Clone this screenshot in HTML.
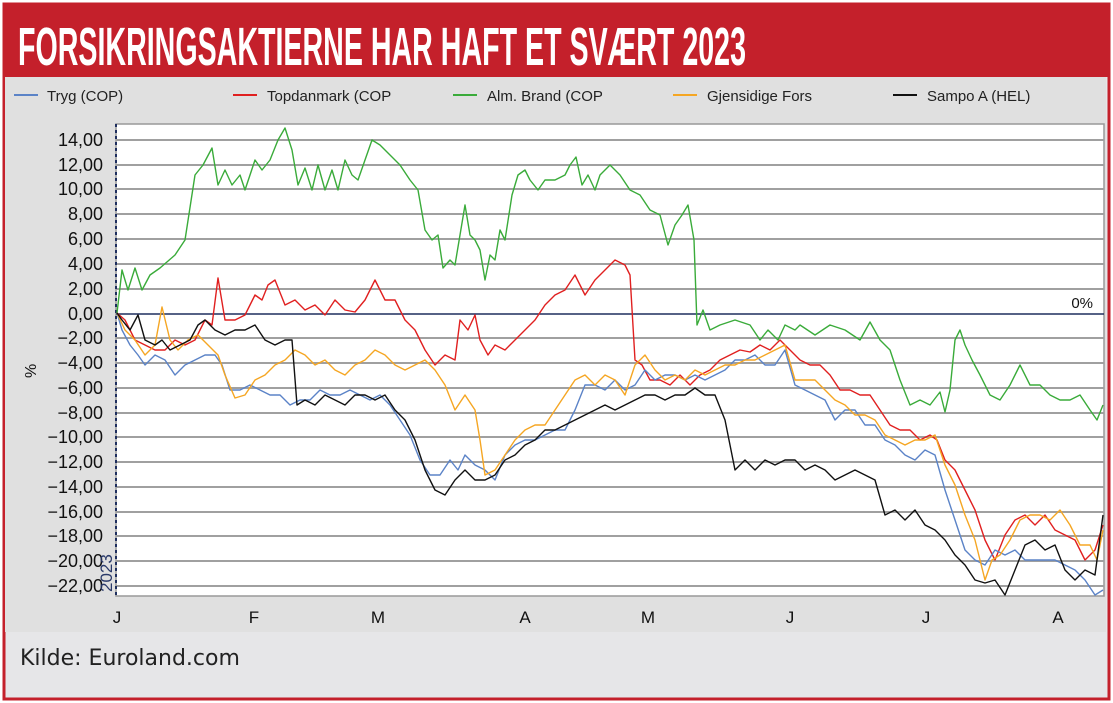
<!DOCTYPE html>
<html><head><meta charset="utf-8"><style>
html,body{margin:0;padding:0;background:#fff;}
body{width:1113px;height:703px;position:relative;overflow:hidden;font-family:"Liberation Sans",Arial,sans-serif;}
</style></head><body>
<svg width="1113" height="703" xmlns="http://www.w3.org/2000/svg" style="position:absolute;left:0;top:0">
<rect x="0" y="0" width="1113" height="703" fill="#fff"/>
<rect x="4" y="4" width="1105" height="695" fill="#e6e6e8" stroke="#c4202b" stroke-width="3"/>
<rect x="3" y="3" width="1107" height="74" fill="#c4202b"/>
<text x="18" y="65" font-family="'Liberation Sans Narrow','Liberation Sans',sans-serif" font-weight="bold" font-size="54" fill="#fff" textLength="728" lengthAdjust="spacingAndGlyphs">FORSIKRINGSAKTIERNE HAR HAFT ET SVÆRT 2023</text>
<rect x="5" y="77" width="1101" height="555" fill="#e0e0e0"/>
<!-- legend -->
<g font-size="15" fill="#222">
<line x1="14" y1="95" x2="38" y2="95" stroke="#5b83c7" stroke-width="2"/><text x="47" y="101">Tryg (COP)</text>
<line x1="233" y1="95" x2="257" y2="95" stroke="#e02020" stroke-width="2"/><text x="267" y="101">Topdanmark (COP</text>
<line x1="453" y1="95" x2="477" y2="95" stroke="#3aab3a" stroke-width="2"/><text x="487" y="101">Alm. Brand (COP</text>
<line x1="673" y1="95" x2="697" y2="95" stroke="#f5a623" stroke-width="2"/><text x="707" y="101">Gjensidige Fors</text>
<line x1="893" y1="95" x2="917" y2="95" stroke="#111" stroke-width="2"/><text x="927" y="101">Sampo A (HEL)</text>
</g>
<rect x="116" y="124" width="988" height="472" fill="#fff" stroke="#999" stroke-width="1.5"/>
<g stroke="#a0a0a0" stroke-width="2">
<line x1="116" y1="140" x2="1104" y2="140"/><line x1="116" y1="165" x2="1104" y2="165"/><line x1="116" y1="189" x2="1104" y2="189"/><line x1="116" y1="214" x2="1104" y2="214"/><line x1="116" y1="239" x2="1104" y2="239"/><line x1="116" y1="264" x2="1104" y2="264"/><line x1="116" y1="289" x2="1104" y2="289"/><line x1="116" y1="338" x2="1104" y2="338"/><line x1="116" y1="363" x2="1104" y2="363"/><line x1="116" y1="388" x2="1104" y2="388"/><line x1="116" y1="413" x2="1104" y2="413"/><line x1="116" y1="437" x2="1104" y2="437"/><line x1="116" y1="462" x2="1104" y2="462"/><line x1="116" y1="487" x2="1104" y2="487"/><line x1="116" y1="512" x2="1104" y2="512"/><line x1="116" y1="536" x2="1104" y2="536"/><line x1="116" y1="561" x2="1104" y2="561"/><line x1="116" y1="586" x2="1104" y2="586"/>
</g>
<line x1="116" y1="314" x2="1104" y2="314" stroke="#1f2f5f" stroke-width="1.5"/>
<text x="1093" y="308" font-size="15" fill="#111" text-anchor="end">0%</text>
<line x1="116" y1="124" x2="116" y2="596" stroke="#1f2f5f" stroke-width="2" stroke-dasharray="3,3"/>
<g font-size="18" fill="#111" text-anchor="end">
<text x="103" y="146">14,00</text><text x="103" y="171">12,00</text><text x="103" y="195">10,00</text><text x="103" y="220">8,00</text><text x="103" y="245">6,00</text><text x="103" y="270">4,00</text><text x="103" y="295">2,00</text><text x="103" y="320">0,00</text><text x="103" y="344">−2,00</text><text x="103" y="369">−4,00</text><text x="103" y="394">−6,00</text><text x="103" y="419">−8,00</text><text x="103" y="443">−10,00</text><text x="103" y="468">−12,00</text><text x="103" y="493">−14,00</text><text x="103" y="518">−16,00</text><text x="103" y="542">−18,00</text><text x="103" y="567">−20,00</text><text x="103" y="592">−22,00</text>
</g>
<text x="0" y="0" font-size="16" fill="#111" transform="translate(36,378) rotate(-90)">%</text>
<text x="0" y="0" font-size="17" fill="#2a3a6a" transform="translate(112,592) rotate(-90)">2023</text>
<g font-size="17" fill="#111" text-anchor="middle">
<text x="117" y="623">J</text><text x="254" y="623">F</text><text x="378" y="623">M</text><text x="525" y="623">A</text><text x="648" y="623">M</text><text x="790" y="623">J</text><text x="926" y="623">J</text><text x="1058" y="623">A</text>
</g>
<g fill="none" stroke-width="1.4" stroke-linejoin="round">
<polyline stroke="#3aab3a" points="117,313 122,270 128,290 135,268 142,290 150,275 160,268 175,255 185,240 195,175 203,165 212,148 218,185 225,170 232,185 240,175 245,190 255,160 262,170 270,160 278,140 285,128 292,150 298,185 305,168 312,190 318,165 325,190 332,170 338,190 345,160 352,175 358,180 365,160 372,140 380,145 390,155 400,165 410,180 418,190 425,230 432,240 438,235 443,268 450,260 455,265 460,235 465,205 470,235 475,240 480,250 485,280 490,255 495,260 500,230 505,240 512,195 518,175 525,170 530,180 538,190 545,180 555,180 565,175 570,165 576,157 582,185 588,175 595,190 600,175 610,165 620,175 630,190 640,195 650,210 660,215 668,245 675,225 682,215 688,205 694,240 697,325 703,310 710,330 720,325 735,320 750,325 760,340 768,330 778,340 785,325 795,330 800,325 815,335 830,325 845,330 860,340 870,322 880,340 890,350 900,380 910,405 920,400 930,405 940,392 945,412 950,390 955,340 960,330 965,345 972,360 980,375 990,395 1000,400 1010,385 1020,365 1030,385 1040,385 1050,395 1060,400 1070,400 1080,395 1090,410 1097,420 1103,405"/>
<polyline stroke="#e02020" points="117,313 125,320 135,340 145,345 155,350 165,350 175,340 185,345 195,340 205,320 212,325 218,278 225,320 235,320 245,315 255,295 262,300 268,285 275,280 285,305 295,300 305,310 315,305 325,315 335,300 345,310 355,312 365,300 375,280 385,300 395,300 405,320 415,330 425,350 435,365 445,355 455,360 460,320 468,330 475,315 480,340 488,355 495,345 505,350 515,340 525,330 535,320 545,305 555,295 565,290 575,275 585,295 595,280 605,270 615,260 625,265 630,275 635,360 642,365 650,380 660,380 670,385 680,375 690,385 700,375 710,370 720,360 730,355 740,350 750,352 760,345 770,350 780,340 790,350 800,360 810,365 820,365 830,375 840,390 850,390 860,395 870,395 880,410 890,425 900,430 910,430 920,440 930,435 937,440 945,460 955,470 965,490 975,510 985,540 995,560 1005,535 1015,520 1025,515 1035,525 1045,515 1055,530 1065,535 1075,540 1085,560 1095,550 1103,525"/>
<polyline stroke="#5b83c7" points="117,313 122,330 130,345 138,355 145,365 155,355 165,360 175,375 185,365 195,360 205,355 215,355 222,365 230,390 240,390 250,385 260,390 270,395 280,395 290,405 300,400 310,400 320,390 330,395 340,395 350,390 360,395 370,400 380,395 390,405 400,420 410,435 420,460 430,475 440,475 450,460 458,470 465,455 475,465 485,470 495,480 505,455 515,445 525,440 535,440 545,435 555,430 565,430 575,410 585,385 595,385 605,390 615,380 625,390 635,385 645,370 655,380 665,375 675,375 685,380 695,375 705,380 715,375 725,370 735,360 745,360 755,355 765,365 775,365 785,350 795,385 805,390 815,395 825,400 835,420 845,410 855,410 865,425 875,425 885,440 895,445 905,455 915,460 925,450 935,455 945,490 955,520 965,550 975,560 985,565 995,550 1005,555 1015,550 1025,560 1035,560 1045,560 1055,560 1065,565 1075,570 1085,580 1095,595 1103,590"/>
<polyline stroke="#f5a623" points="117,313 125,330 135,340 145,355 155,345 162,307 170,340 178,350 188,340 198,335 208,345 218,355 225,375 235,398 245,395 255,380 265,375 275,365 285,360 295,350 305,355 315,365 325,360 335,370 345,375 355,365 365,360 375,350 385,355 395,365 405,370 415,365 425,360 435,370 445,385 455,410 465,395 475,410 480,440 485,475 495,470 505,455 515,440 525,430 535,425 545,425 555,410 565,395 575,380 585,375 595,385 605,375 615,380 625,395 635,365 645,355 655,370 665,380 675,375 685,380 695,370 705,375 715,370 725,365 735,365 745,360 755,360 765,355 775,350 785,345 795,380 805,380 815,380 825,390 835,400 845,405 855,415 865,415 875,420 885,435 895,440 905,445 915,440 925,440 935,435 945,465 955,485 965,515 975,540 985,580 992,560 1000,555 1010,540 1020,520 1030,515 1040,515 1050,520 1060,510 1070,525 1080,545 1090,545 1097,560 1103,530"/>
<polyline stroke="#111" points="117,313 122,320 130,330 138,315 145,340 155,345 162,340 170,350 180,345 190,340 198,325 205,320 215,330 225,335 235,330 245,330 255,325 265,340 275,345 285,340 292,340 297,405 305,400 315,405 325,395 335,400 345,405 355,395 365,395 375,400 385,395 395,410 405,420 415,440 425,470 435,490 445,495 455,480 465,470 475,480 485,480 495,475 505,460 515,455 525,445 535,440 545,430 555,430 565,425 575,420 585,415 595,410 605,405 615,410 625,405 635,400 645,395 655,395 665,400 675,395 685,395 695,388 705,395 715,395 725,420 735,470 745,460 755,470 765,460 775,465 785,460 795,460 805,470 815,465 825,470 835,480 845,475 855,470 865,475 875,480 885,515 895,510 905,520 915,510 925,525 935,530 945,540 955,555 965,565 975,580 985,583 995,580 1005,595 1015,570 1025,545 1035,540 1045,550 1055,545 1065,570 1075,580 1085,570 1095,575 1103,515"/>
</g>
<text x="20" y="665" font-family="'DejaVu Sans','Liberation Sans',sans-serif" font-size="22" fill="#222">Kilde: Euroland.com</text>
</svg>
</body></html>
